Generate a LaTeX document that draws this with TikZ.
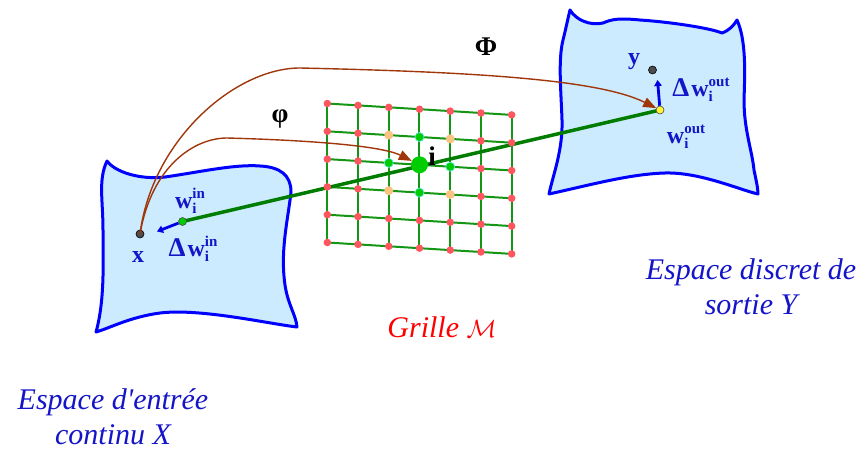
\documentclass[tikz,border=0pt]{standalone}
\usepackage{fontspec}
\setmainfont{Liberation Serif}
\usetikzlibrary{arrows.meta}
\definecolor{blobfill}{RGB}{204,235,255}
\definecolor{blobline}{RGB}{0,0,255}
\definecolor{gridgreen}{RGB}{20,150,20}
\definecolor{linegreen}{RGB}{0,125,0}
\definecolor{dotred}{RGB}{255,85,95}
\definecolor{dotorange}{RGB}{250,195,130}
\definecolor{dotgreen}{RGB}{0,205,0}
\definecolor{dotcyan}{RGB}{90,230,220}
\definecolor{brownc}{RGB}{160,55,10}
\definecolor{txtblue}{RGB}{20,20,200}
\definecolor{arrblue}{RGB}{0,0,230}
\definecolor{gridred}{RGB}{255,0,0}
\newcommand{\wlab}[2]{w\rlap{\raisebox{-5pt}{\fontsize{15}{15}\selectfont #1}}\raisebox{10pt}{\fontsize{15}{15}\selectfont #2}}
\newcommand{\dlt}{{\fontsize{27}{27}\selectfont Δ}\kern2pt}
\tikzset{
  blob/.style={fill=blobfill, draw=blobline, line width=3pt, line join=round},
  gridline/.style={draw=gridgreen, line width=2pt},
  reddot/.style={circle, fill=dotred, inner sep=0pt, minimum size=7.5pt},
  orangedot/.style={circle, fill=dotorange, inner sep=0pt, minimum size=9pt},
  greendot/.style={circle, fill=dotgreen, draw=dotcyan, line width=0.7pt, inner sep=0pt, minimum size=9pt},
  bigdot/.style={circle, fill=dotgreen, inner sep=0pt, minimum size=17pt},
  mainline/.style={draw=linegreen, line width=3.5pt},
  maparrow/.style={draw=brownc, line width=1.4pt, -{Triangle[length=13pt,width=10pt]}},
  deltaarrow/.style={draw=arrblue, line width=2.8pt, -{Triangle[length=6pt,width=7.5pt]}},
  ptdot/.style={circle, fill=black!70, draw=black, line width=0.6pt, inner sep=0pt, minimum size=8pt},
  wdotin/.style={circle, fill=dotgreen, draw=black!70, line width=0.6pt, inner sep=0pt, minimum size=8pt},
  wdotout/.style={circle, fill=yellow!80, draw=black!70, line width=0.6pt, inner sep=0pt, minimum size=8pt},
  mathlbl/.style={text=txtblue, font=\fontsize{24}{26}\selectfont\bfseries, inner sep=0pt},
  greeklbl/.style={text=black, font=\fontsize{27}{30}\selectfont\bfseries, inner sep=0pt},
  biglbl/.style={text=txtblue, font=\fontsize{30}{35}\selectfont\itshape, align=center, inner sep=0pt},
}
\begin{document}
\begin{tikzpicture}[x=1pt,y=-1pt]
\useasboundingbox (0,0) rectangle (866,452);
% left blob
\path[blob] (107,161) .. controls (115,172) and (140,180) .. (165,177)
  .. controls (200,172) and (235,164) .. (260,166)
  .. controls (280,167) and (291,175) .. (291,192)
  .. controls (288,220) and (280,250) .. (285,285)
  .. controls (288,305) and (296,315) .. (297,327)
  .. controls (270,324) and (200,308) .. (160,313)
  .. controls (130,317) and (110,328) .. (96,332)
  .. controls (105,300) and (103,260) .. (103,230)
  .. controls (103,200) and (98,180) .. cycle;
% right blob
\path[blob] (570,10) .. controls (576,20) and (590,26) .. (603,23)
  .. controls (612,19) and (620,18) .. (640,20)
  .. controls (670,22) and (710,28) .. (722,33)
  .. controls (730,30) and (734,25) .. (737,20)
  .. controls (746,40) and (745,70) .. (744,100)
  .. controls (744,130) and (752,150) .. (754,170)
  .. controls (756,180) and (758,188) .. (758,194)
  .. controls (740,190) and (700,172) .. (665,173)
  .. controls (630,174) and (590,185) .. (549,194)
  .. controls (553,175) and (563,150) .. (562,120)
  .. controls (561,90) and (558,60) .. (563,40)
  .. controls (566,28) and (568,18) .. cycle;
% grid
\foreach \j in {0,...,6}{\foreach \r in {0,...,5}{
  \coordinate (p-\j-\r) at ({327.3+30.73*\j},{103.5+27.8*\r+1.9*\j});}}
\foreach \r in {0,...,5}{\draw[gridline] (p-0-\r) -- (p-1-\r) -- (p-2-\r) -- (p-3-\r) -- (p-4-\r) -- (p-5-\r) -- (p-6-\r);}
\foreach \j in {0,...,6}{\draw[gridline] (p-\j-0) -- (p-\j-1) -- (p-\j-2) -- (p-\j-3) -- (p-\j-4) -- (p-\j-5);}
% main line
\coordinate (win) at (182.5,221.5);
\coordinate (wout) at (660,110);
\draw[mainline] (win) -- (wout);
% grid dots
\foreach \j in {0,...,6}{\foreach \r in {0,...,5}{
  \pgfmathtruncatemacro{\dj}{abs(\j-3)}
  \pgfmathtruncatemacro{\dr}{abs(\r-2)}
  \pgfmathtruncatemacro{\typ}{((\dj<2)&&(\dr<2)) ? (\dj+\dr) : 9}
  \ifcase\typ
    \node[bigdot] (d-\j-\r) at (p-\j-\r) {};
  \or
    \node[greendot] (d-\j-\r) at (p-\j-\r) {};
  \or
    \node[orangedot] (d-\j-\r) at (p-\j-\r) {};
  \else
    \node[reddot] (d-\j-\r) at (p-\j-\r) {};
  \fi
}}
% points
\node[ptdot] (xdot) at (140,234) {};
\node[ptdot] (ydot) at (652.5,70) {};
\node[wdotin] (windot) at (win) {};
\node[wdotout] (woutdot) at (wout) {};
% mapping arrows
\coordinate (phibend) at (227,138);
\coordinate (Phibend) at (300,68);
\draw[maparrow] (xdot.center) .. controls (152,140) and (235,68) .. (Phibend)
   .. controls (480,72) and (600,80) .. (woutdot);
\draw[maparrow] (xdot.center) .. controls (152,165) and (195,138) .. (phibend)
   .. controls (300,140) and (380,145) .. (d-3-2);
% delta arrows
\coordinate (dintip) at (157,231.5);
\coordinate (douttip) at (657.5,80);
\draw[deltaarrow] (windot) -- (dintip);
\draw[deltaarrow] (woutdot) -- (douttip);
% labels
\node[mathlbl] (xl) at (138,257) {x};
\node[mathlbl] (yl) at (634,62) {y};
\node[mathlbl] (winl) at (190,201) {\wlab{i}{in}};
\node[mathlbl] (dwinl) at (193,249) {\dlt\wlab{i}{in}};
\node[mathlbl] (woutl) at (686,137) {\wlab{i}{out}};
\node[mathlbl] (dwoutl) at (701,90) {\dlt\wlab{i}{out}};
\node[greeklbl] (il) at (432,156) {i};
\node[greeklbl] (Phil) at (486,47) {Φ};
\node[greeklbl] (phil) at (280,119) {φ};
\node[biglbl, text=gridred] (gl) at (442,327) {Grille $\mathcal{M}$};
\node[biglbl] (inl) at (113,417) {Espace d\textquotesingle entrée\\continu X};
\node[biglbl] (outl) at (751,287) {Espace discret de\\sortie Y};
\end{tikzpicture}
\end{document}
